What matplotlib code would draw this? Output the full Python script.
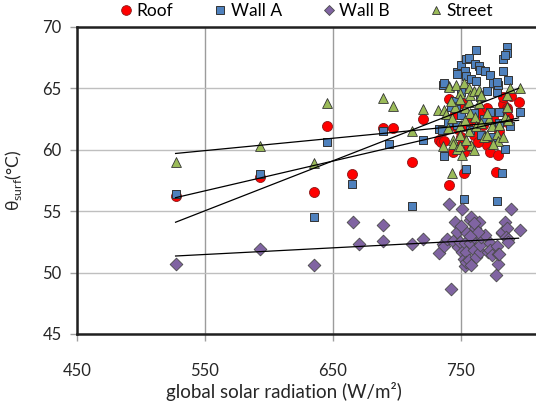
"""Surface temperature vs global solar radiation scatter with trend lines."""

import matplotlib

matplotlib.use("Agg")
import matplotlib.pyplot as plt
from matplotlib.lines import Line2D

plt.rcParams["font.family"] = ["Lato", "DejaVu Sans"]
plt.rcParams["mathtext.fontset"] = "custom"
plt.rcParams["mathtext.rm"] = "Lato"

# --- data ----------------------------------------------------------------
roof_x = [527, 593, 635, 645, 665, 689, 697, 712, 720, 733, 734, 737, 737,
          741, 741, 744, 748, 751, 752, 752, 756, 758, 762, 765, 770, 773,
          777, 779, 783, 786, 786, 787, 789, 795, 745, 750, 760, 767, 775,
          780, 755, 742, 748, 763, 770, 783, 786]
roof_y = [56.2, 57.8, 56.6, 61.9, 58.0, 61.8, 61.8, 59.0, 62.5, 60.8, 60.6,
          61.6, 60.7, 64.1, 57.1, 59.8, 61.7, 63.8, 59.8, 58.1, 60.3, 62.4,
          62.4, 63.1, 60.4, 59.8, 58.2, 59.6, 63.7, 63.4, 62.3, 62.7, 64.4,
          63.9, 62.9, 61.0, 61.2, 62.0, 62.6, 61.5, 62.0, 62.0, 60.2, 60.6,
          63.4, 64.3, 63.2]

wall_a_x = [527, 593, 635, 645, 665, 689, 694, 712, 720, 733, 735, 736, 737,
            740, 737, 746, 747, 747, 747, 750, 750, 752, 753, 754, 754, 754,
            756, 757, 758, 761, 762, 762, 764, 765, 766, 769, 773, 773, 775,
            778, 778, 779, 780, 782, 783, 783, 784, 786, 786, 787, 788, 796,
            745, 760, 768, 742, 775, 750, 765, 780, 770, 784, 778]
wall_a_y = [56.4, 58.0, 54.5, 60.6, 57.2, 61.5, 60.5, 55.4, 60.8, 61.7, 61.6,
            65.3, 59.5, 62.3, 65.4, 63.4, 62.0, 66.3, 66.2, 66.9, 64.7, 56.0,
            66.4, 66.0, 67.4, 58.4, 67.5, 61.6, 65.8, 67.0, 65.6, 68.1, 66.8,
            66.5, 61.2, 66.4, 66.1, 63.1, 65.4, 64.7, 55.8, 65.3, 63.1, 58.1,
            67.4, 66.4, 60.1, 68.4, 67.9, 65.7, 61.9, 63.1, 64.0, 63.0, 62.5,
            63.5, 61.0, 62.8, 64.3, 62.2, 64.8, 67.7, 65.5]

wall_b_x = [527, 593, 635, 666, 670, 689, 689, 712, 720, 733, 736, 737, 739,
            741, 742, 744, 745, 747, 748, 749, 751, 751, 752, 753, 753, 754,
            754, 754, 756, 757, 757, 758, 758, 760, 760, 761, 762, 764, 765,
            765, 766, 769, 771, 773, 773, 774, 777, 778, 779, 779, 780, 782,
            782, 784, 786, 785, 787, 787, 789, 796, 760, 763, 757, 750]
wall_b_y = [50.7, 51.9, 50.6, 54.15, 52.3, 53.9, 52.6, 52.3, 52.7, 51.6, 52.3,
            52.2, 52.7, 55.6, 48.7, 52.6, 54.1, 53.3, 52.1, 52.5, 55.2, 51.7,
            51.1, 52.4, 50.5, 53.3, 51.7, 50.9, 51.0, 54.3, 52.4, 54.5, 50.6,
            52.9, 51.8, 53.6, 51.3, 54.1, 51.7, 52.25, 52.9, 53.1, 51.7, 52.4,
            51.8, 51.4, 49.8, 52.2, 50.7, 51.5, 51.5, 53.2, 53.3, 54.1, 53.6,
            52.9, 52.7, 52.5, 55.2, 53.5, 54.0, 53.3, 53.0, 53.8]

street_x = [527, 593, 635, 645, 689, 697, 712, 720, 732, 736, 737, 738, 741,
            741, 743, 743, 744, 744, 746, 747, 749, 749, 749, 749, 749, 751,
            752, 753, 753, 756, 756, 756, 757, 757, 758, 760, 761, 762, 764,
            764, 766, 768, 770, 772, 774, 778, 779, 784, 786, 786, 787, 788,
            796, 745, 760, 766, 770, 780, 783, 740, 754, 742, 775]
street_y = [59.0, 60.3, 58.9, 63.8, 64.2, 63.6, 61.5, 63.3, 63.2, 60.3, 63.2,
            62.9, 65.2, 65.1, 62.6, 58.1, 60.8, 60.5, 65.3, 60.1, 64.6, 64.1,
            61.9, 61.2, 60.3, 59.6, 65.4, 63.4, 62.4, 65.0, 63.9, 61.5, 64.5,
            63.0, 60.4, 64.8, 62.7, 61.9, 64.9, 63.8, 64.5, 61.0, 61.2, 62.5,
            61.9, 61.3, 60.7, 62.7, 64.5, 63.5, 62.4, 65.0, 65.0, 63.5, 60.0,
            62.2, 63.0, 62.0, 61.0, 61.8, 60.8, 64.0, 60.5]

# linear trend lines as drawn in the reference (value at each end)
trend_x = [527, 795]
roof_trend = [54.1, 65.0]
wall_a_trend = [56.1, 62.6]
wall_b_trend = [51.35, 52.8]
street_trend = [59.7, 62.4]

x_ticks = [450, 550, 650, 750]
y_ticks = [45, 50, 55, 60, 65, 70]

# --- figure ------------------------------------------------------------------
fig = plt.figure(figsize=(5.36, 4.08), dpi=100)
ax = fig.add_axes([0.1437, 0.1814, 0.8563, 0.7525])

ax.set_xticks(x_ticks)
ax.set_yticks(y_ticks)
ax.set_xlim(450, 808.6)
ax.set_ylim(45, 70)
ax.grid(axis="y", color="#BFBFBF", linewidth=1.0, zorder=0)
ax.grid(axis="x", color="#9C9C9C", linewidth=1.0, zorder=0)
ax.set_axisbelow(True)

for side in ("left", "top", "bottom"):
    ax.spines[side].set_linewidth(1.8)
    ax.spines[side].set_color("#202020")
ax.spines["right"].set_visible(False)

ax.tick_params(axis="both", length=5, width=1, color="#A0A0A0",
               labelsize=12, labelcolor="#262626")
ax.tick_params(axis="x", pad=16)
ax.tick_params(axis="y", pad=6)

edge = "#333333"
ax.scatter(roof_x, roof_y, s=52, marker="o", color="#FF0000",
           edgecolors="#8B1A1A", linewidths=0.6, zorder=3)
ax.scatter(wall_a_x, wall_a_y, s=38, marker="s", color="#4F81BD",
           edgecolors=edge, linewidths=0.7, zorder=3)
ax.scatter(wall_b_x, wall_b_y, s=42, marker="D", color="#8064A2",
           edgecolors="#4A4A4A", linewidths=0.6, zorder=3)
ax.scatter(street_x, street_y, s=50, marker="^", color="#9BBB59",
           edgecolors=edge, linewidths=0.6, zorder=3)

for vals in (roof_trend, wall_a_trend, wall_b_trend, street_trend):
    ax.plot(trend_x, vals, color="black", linewidth=0.9, zorder=4)

ax.set_xlabel("global solar radiation (W/m²)", fontsize=13.5, color="#262626")
ax.xaxis.set_label_coords(0.451, -0.155)
ax.set_ylabel("θ$_{\\mathrm{surf}}$(°C)", fontsize=12.5, color="#262626")
ax.yaxis.set_label_coords(-0.115, 0.5)

handles = [
    Line2D([], [], ls="", marker="o", ms=7, mfc="#FF0000", mec="#8B1A1A",
           mew=0.6, label="Roof"),
    Line2D([], [], ls="", marker="s", ms=5.5, mfc="#4F81BD", mec=edge,
           mew=0.7, label="Wall A"),
    Line2D([], [], ls="", marker="D", ms=5, mfc="#8064A2", mec="#4A4A4A",
           mew=0.6, label="Wall B"),
    Line2D([], [], ls="", marker="^", ms=6, mfc="#9BBB59", mec=edge,
           mew=0.6, label="Street"),
]
fig.legend(handles=handles, loc="center", bbox_to_anchor=(0.573, 0.972),
           ncol=4, frameon=False, fontsize=12.5, handlelength=0.6,
           handletextpad=0.3, columnspacing=2.4, borderpad=0)

fig.savefig("out.png", dpi=100)
plt.close(fig)
